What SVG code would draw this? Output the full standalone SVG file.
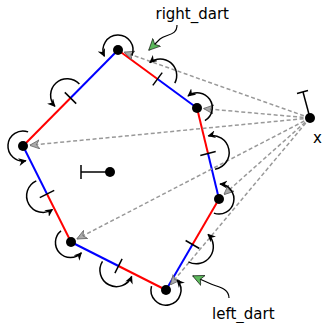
<svg xmlns="http://www.w3.org/2000/svg" width="324" height="323" viewBox="0 0 324 323">
<style>
.red{stroke:#ff0000;stroke-width:2;fill:none}
.blue{stroke:#0000ff;stroke-width:2;fill:none}
.tick{stroke:#000;stroke-width:1.5;fill:none}
.arc{stroke:#000;stroke-width:1.5;fill:none;marker-end:url(#ah)}
.dash{stroke:#999;stroke-width:1.5;fill:none;stroke-dasharray:4,2.5;marker-end:url(#gh)}
.dot{fill:#000}
.lbl{font-family:"DejaVu Sans",sans-serif;font-size:15px;fill:#000}
.lead{stroke:#000;stroke-width:1.2;fill:none;marker-end:url(#grn)}
</style>
<defs>
<marker id="ah" viewBox="0 0 10 10" refX="9" refY="5" markerWidth="8" markerHeight="8" markerUnits="userSpaceOnUse" orient="auto">
<path d="M0,0 L10,5 L0,10 L3,5 Z" fill="#000"/>
</marker>
<marker id="gh" viewBox="0 0 10 10" refX="9.5" refY="5" markerWidth="10" markerHeight="10" markerUnits="userSpaceOnUse" orient="auto">
<path d="M0,0.5 L10,5 L0,9.5 L3,5 Z" fill="#aaa" stroke="#666" stroke-width="0.8"/>
</marker>
<marker id="grn" viewBox="0 0 12 12" refX="11" refY="6" markerWidth="12" markerHeight="12" markerUnits="userSpaceOnUse" orient="auto">
<path d="M0,0.5 L11.5,6 L0,11.5 L3,6 Z" fill="#5cb85c" stroke="#000" stroke-width="0.6"/>
</marker>
</defs>

<g id="connectors">
<!-- polygon edges: red half then blue half -->
<line class="red" x1="118" y1="50" x2="157.5" y2="79"/>
<line class="blue" x1="157.5" y1="79" x2="197" y2="108"/>
<line class="red" x1="197" y1="108" x2="208" y2="153.5"/>
<line class="blue" x1="208" y1="153.5" x2="219" y2="199"/>
<line class="red" x1="219" y1="199" x2="192.5" y2="244.5"/>
<line class="blue" x1="192.5" y1="244.5" x2="166" y2="290"/>
<line class="red" x1="166" y1="290" x2="118.5" y2="266"/>
<line class="blue" x1="118.5" y1="266" x2="71" y2="242"/>
<line class="red" x1="71" y1="242" x2="47" y2="194"/>
<line class="blue" x1="47" y1="194" x2="23" y2="146"/>
<line class="red" x1="23" y1="146" x2="70.5" y2="98"/>
<line class="blue" x1="70.5" y1="98" x2="118" y2="50"/>
<!-- ticks -->
<line class="tick" x1="152.8" y1="85.4" x2="162.2" y2="72.6"/>
<line class="tick" x1="200.3" y1="155.4" x2="215.7" y2="151.6"/>
<line class="tick" x1="185.6" y1="240.5" x2="199.4" y2="248.5"/>
<line class="tick" x1="122.1" y1="258.9" x2="114.9" y2="273.1"/>
<line class="tick" x1="39.8" y1="197.6" x2="54.2" y2="190.4"/>
<line class="tick" x1="64.8" y1="92.4" x2="76.2" y2="103.6"/>
<!-- dashed darts from x -->
<line class="dash" x1="310" y1="118" x2="124.6" y2="52.3"/>
<line class="dash" x1="310" y1="118" x2="204" y2="108.6"/>
<line class="dash" x1="310" y1="118" x2="224.2" y2="194.3"/>
<line class="dash" x1="310" y1="118" x2="170.5" y2="284.6"/>
<line class="dash" x1="310" y1="118" x2="77.2" y2="238.8"/>
<line class="dash" x1="310" y1="118" x2="30" y2="145.3"/>
<!-- vertex arcs -->
<path class="arc" d="M131.9,55.6 A15,15 0 1 0 104.4,56.3"/>
<path class="arc" d="M204.9,120.7 A15,15 0 1 0 188,96"/>
<path class="arc" d="M213.9,213.1 A15,15 0 1 0 220,184"/>
<path class="arc" d="M151.5,286.1 A15,15 0 1 0 177.1,280"/>
<path class="arc" d="M61,230.9 A15,15 0 1 0 81.4,252.8"/>
<path class="arc" d="M28.1,131.9 A15,15 0 1 0 25.9,160.7"/>
<!-- edge arcs -->
<path class="arc" d="M174.8,83.1 A16.5,16.5 0 0 0 149.8,62.6"/>
<path class="arc" d="M215.1,169.2 A17,17 0 1 0 208.3,135.9"/>
<path class="arc" d="M188.4,261.8 A17,17 0 0 0 208,234.4"/>
<path class="arc" d="M102.5,261.3 A16.5,16.5 0 1 0 131.7,276.4"/>
<path class="arc" d="M36.3,180.9 A16.5,16.5 0 1 0 52.5,209.5"/>
<path class="arc" d="M79.4,84.1 A16.5,16.5 0 1 0 54.9,106.3"/>
<!-- label leaders -->
<path class="lead" d="M177,25 C177,36 166,34 160,39 L149,50"/>
<path class="lead" d="M229,298 C229,288 218,287 211,284 L193,276"/>
</g>

<g id="vA"><circle class="dot" cx="118" cy="50" r="5"/></g>
<g id="vB"><circle class="dot" cx="197" cy="108" r="5"/></g>
<g id="vC"><circle class="dot" cx="219" cy="199" r="5"/></g>
<g id="vD"><circle class="dot" cx="166" cy="290" r="5"/></g>
<g id="vE"><circle class="dot" cx="71" cy="242" r="5"/></g>
<g id="vF"><circle class="dot" cx="23" cy="146" r="5"/></g>
<g id="inner">
<line class="tick" x1="110" y1="172" x2="81" y2="172"/>
<line class="tick" x1="81" y1="165" x2="81" y2="179"/>
<circle class="dot" cx="110" cy="172" r="5"/>
</g>
<g id="x">
<line class="tick" x1="310" y1="118" x2="303" y2="92"/>
<line class="tick" x1="297" y1="93.5" x2="308" y2="90.5"/>
<circle class="dot" cx="310" cy="118" r="5"/>
<text class="lbl" x="313" y="143">x</text>
</g>
<g id="right_dart"><text class="lbl" x="155.5" y="19">right_dart</text></g>
<g id="left_dart"><text class="lbl" x="212" y="318.5">left_dart</text></g>
</svg>
